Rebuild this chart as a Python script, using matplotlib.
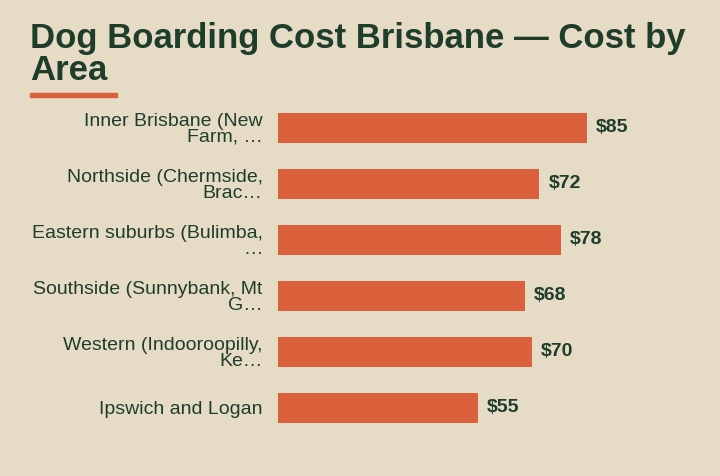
import matplotlib
matplotlib.use("Agg")
import matplotlib.pyplot as plt
from matplotlib.patches import Rectangle

categories = ["Inner Brisbane (New\nFarm, …", "Northside (Chermside,\nBrac…",
              "Eastern suburbs (Bulimba,\n…", "Southside (Sunnybank, Mt\nG…",
              "Western (Indooroopilly,\nKe…", "Ipswich and Logan"]
values = [85, 72, 78, 68, 70, 55]

bg = "#e6dcc5"
green = "#1f3d2b"
orange = "#db603c"
plt.rcParams['font.family'] = ['Liberation Sans', 'DejaVu Sans']

fig = plt.figure(figsize=(7.2, 4.76), dpi=100, facecolor=bg)
W, H = 720, 476
ax = fig.add_axes([278/W, 1-436/H, 363/W, 336/H], facecolor=bg)
y = list(range(len(values)))
ax.barh(y, values, height=0.55, color=orange)
ax.set_ylim(len(values)-0.5, -0.5)
ax.set_xlim(0, 100)
for yi, v in zip(y, values):
    ax.text(v + 2.5, yi, f"${v}", va="center", ha="left", fontsize=14,
            fontweight="bold", color=green)
ax.set_yticks(y)
ax.set_yticklabels(categories, fontsize=14, color=green, linespacing=0.9)
ax.tick_params(axis="y", length=0, pad=11)
ax.set_xticks([])
for s in ax.spines.values():
    s.set_visible(False)

fig.text(30/W, 1-22/H, "Dog Boarding Cost Brisbane — Cost by\nArea", fontsize=25,
         fontweight="bold", color=green, va="top", ha="left", linespacing=0.95)
fig.patches.append(Rectangle((30/W, 1-97/H), 87/W, 4/H, transform=fig.transFigure,
                             color=orange))
fig.savefig("out.png", dpi=100, facecolor=bg)
